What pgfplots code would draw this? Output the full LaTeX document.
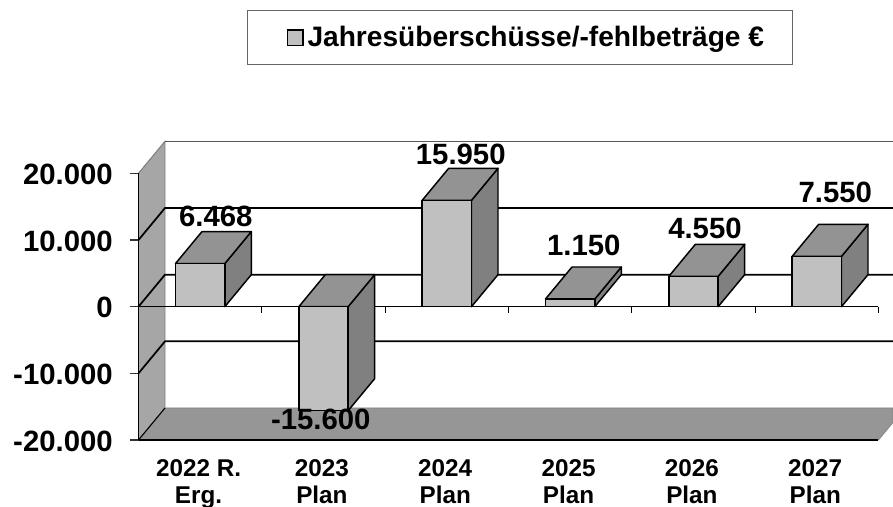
\documentclass[border=0pt]{standalone}
\usepackage{pgfplots}
\usepackage{fontspec}
\setmainfont{Liberation Sans}
\pgfplotsset{compat=1.18}
\definecolor{frontc}{HTML}{C0C0C0}
\definecolor{topc}{HTML}{939393}
\definecolor{sidec}{HTML}{808080}
\definecolor{wallc}{HTML}{A6A6A6}
\definecolor{floorc}{HTML}{969696}
\begin{document}
\begin{tikzpicture}
\useasboundingbox (0,0) rectangle (669.75pt,380.25pt);
\begin{axis}[
  at={(103.875pt,50.25pt)}, anchor=south west,
  scale only axis, width=555pt, height=200pt,
  xmin=-0.5, xmax=5.5, ymin=-20000, ymax=20000,
  clip=false, axis on top, scaled y ticks=false,
  axis x line*=bottom, axis y line*=left,
  axis line style={line width=1.1pt, black, -},
  xtick={0,1,2,3,4,5},
  xticklabels={{2022 R.\\Erg.},{2023\\Plan},{2024\\Plan},{2025\\Plan},{2026\\Plan},{2027\\Plan}},
  x tick style={draw=none},
  xticklabel style={align=center, font=\fontsize{18.2}{20.25}\selectfont\bfseries, anchor=north, xshift=-1.2pt, yshift=-4.75pt},
  ytick={-20000,-10000,0,10000,20000},
  yticklabels={-20.000,-10.000,0,10.000,20.000},
  y tick style={black!80, line width=0.8pt},
  tick align=outside,
  major tick length=6.4pt,
  yticklabel style={font=\fontsize{22}{24}\selectfont\bfseries, anchor=east, xshift=-9.4pt, yshift=-0.8pt},
  legend style={at={(0.5155,1.509)}, anchor=center, draw=black!60, fill=white, line width=0.7pt,
    font=\fontsize{21.1}{24}\selectfont\bfseries, inner xsep=19.5pt, inner ysep=9.7pt, legend cell align=left},
]
% walls
\addplot[forget plot, fill=wallc, draw=gray, line width=0.6pt] coordinates {(-0.5,-20000)(-0.5,20000)(-0.2851,24800)(-0.2851,-15200)} --cycle;
\addplot[forget plot, fill=floorc, draw=gray, line width=0.5pt] coordinates {(-0.5,-20000)(5.5,-20000)(5.618,-17364)(5.618,-15200)(-0.2851,-15200)} --cycle;
% left axis line and ticks on the wall edge
\addplot[forget plot, draw=black, line width=1pt] coordinates {(-0.5,-20000)(-0.5,20000)};
\addplot[forget plot, draw=black!80, line width=0.8pt] coordinates {(-0.569,20000)(-0.5,20000)};
\addplot[forget plot, draw=black!80, line width=0.8pt] coordinates {(-0.569,10000)(-0.5,10000)};
\addplot[forget plot, draw=black, line width=0.8pt] coordinates {(-0.569,0)(-0.5,0)};
\addplot[forget plot, draw=black!80, line width=0.8pt] coordinates {(-0.569,-10000)(-0.5,-10000)};
\addplot[forget plot, draw=black!80, line width=0.8pt] coordinates {(-0.569,-20000)(-0.5,-20000)};
% gridlines
\addplot[forget plot, draw=black!65, line width=1.2pt] coordinates {(-0.2851,24800)(5.618,24800)};
\addplot[forget plot, draw=gray, line width=0.6pt] coordinates {(-0.5,20000)(-0.2851,24800)};
\addplot[forget plot, draw=black, line width=1.3pt] coordinates {(-0.5,10000)(-0.2851,14800)(5.618,14800)};
\addplot[forget plot, draw=black, line width=1.3pt] coordinates {(-0.5,0)(-0.2851,4800)(5.618,4800)};
\addplot[forget plot, draw=black, line width=1.3pt] coordinates {(-0.5,-10000)(-0.2851,-5200)(5.618,-5200)};
\addplot[forget plot, draw=black, line width=0.8pt] coordinates {(-0.5,-20000)(-0.2851,-15200)};
% zero line and its ticks
\addplot[forget plot, draw=black, line width=1.1pt] coordinates {(-0.5,0)(5.5,0)};
\addplot[forget plot, ycomb, draw=black, line width=0.8pt, no markers] coordinates {(-0.5,-900)(0.5,-900)(1.5,-900)(2.5,-900)(3.5,-900)(4.5,-900)(5.5,-900)};
% side faces
\addplot[forget plot, fill=sidec, draw=black, line width=1.1pt, line join=round] coordinates {(0.2,0)(0.2,6468)(0.4149,11268)(0.4149,4800)} --cycle;
\addplot[forget plot, fill=sidec, draw=black, line width=1.1pt, line join=round] coordinates {(1.2,0)(1.2,-15600)(1.4149,-10800)(1.4149,4800)} --cycle;
\addplot[forget plot, fill=sidec, draw=black, line width=1.1pt, line join=round] coordinates {(2.2,0)(2.2,15950)(2.4149,20750)(2.4149,4800)} --cycle;
\addplot[forget plot, fill=sidec, draw=black, line width=1.1pt, line join=round] coordinates {(3.2,0)(3.2,1150)(3.4149,5950)(3.4149,4800)} --cycle;
\addplot[forget plot, fill=sidec, draw=black, line width=1.1pt, line join=round] coordinates {(4.2,0)(4.2,4550)(4.4149,9350)(4.4149,4800)} --cycle;
\addplot[forget plot, fill=sidec, draw=black, line width=1.1pt, line join=round] coordinates {(5.2,0)(5.2,7550)(5.4149,12350)(5.4149,4800)} --cycle;
% top faces
\addplot[forget plot, fill=topc, draw=black, line width=1.1pt, line join=round] coordinates {(-0.2,6468)(0.2,6468)(0.4149,11268)(0.0149,11268)} --cycle;
\addplot[forget plot, fill=topc, draw=black, line width=1.1pt, line join=round] coordinates {(0.8,0)(1.2,0)(1.4149,4800)(1.0149,4800)} --cycle;
\addplot[forget plot, fill=topc, draw=black, line width=1.1pt, line join=round] coordinates {(1.8,15950)(2.2,15950)(2.4149,20750)(2.0149,20750)} --cycle;
\addplot[forget plot, fill=topc, draw=black, line width=1.1pt, line join=round] coordinates {(2.8,1150)(3.2,1150)(3.4149,5950)(3.0149,5950)} --cycle;
\addplot[forget plot, fill=topc, draw=black, line width=1.1pt, line join=round] coordinates {(3.8,4550)(4.2,4550)(4.4149,9350)(4.0149,9350)} --cycle;
\addplot[forget plot, fill=topc, draw=black, line width=1.1pt, line join=round] coordinates {(4.8,7550)(5.2,7550)(5.4149,12350)(5.0149,12350)} --cycle;
% front faces
\addplot[ybar, bar width=0.4, fill=frontc, draw=black, line width=1.2pt,
  legend image code/.code={\path[draw=none,fill=none] (-10.75pt,0pt) -- (13pt,0pt); \draw[fill=frontc, draw=black, line width=1.1pt] (0pt,-5.8pt) rectangle (11.5pt,5.8pt);}]
  coordinates {(0,6468)(1,-15600)(2,15950)(3,1150)(4,4550)(5,7550)};
\addlegendentry{Jahresüberschüsse/-fehlbeträge €}
% value labels
\addplot[forget plot, draw=none, mark=none, nodes near coords, point meta=explicit symbolic,
  every node near coord/.append style={anchor=base, inner sep=0pt, text=black, font=\fontsize{22}{24}\selectfont\bfseries}]
  table[meta=label] {
x y label
0.127 12000 6.468
0.978 -18492 -15.600
2.113 21250 15.950
3.111 7604 1.150
4.093 10200 4.550
5.150 15600 7.550
};
\end{axis}
\end{tikzpicture}
\end{document}
